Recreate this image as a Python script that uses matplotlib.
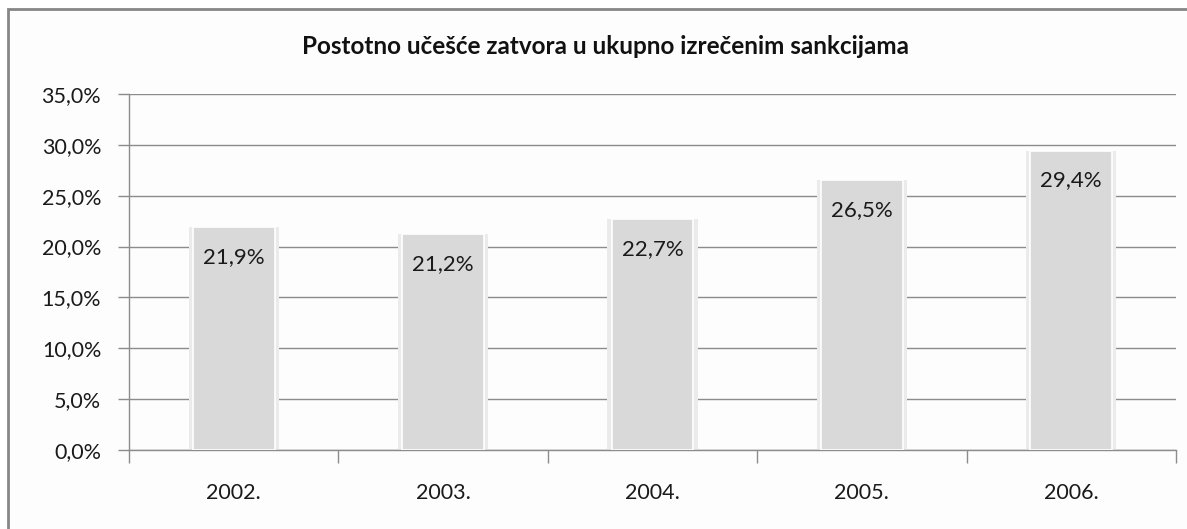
# Bar chart: share of prison sentences in all pronounced sanctions, 2002-2006

import matplotlib.pyplot as plt
from matplotlib.patches import Rectangle
from matplotlib.ticker import FuncFormatter, MultipleLocator

plt.rcParams['font.family'] = ['Lato', 'DejaVu Sans']

years = ['2002.', '2003.', '2004.', '2005.', '2006.']
shares = [21.9, 21.2, 22.7, 26.5, 29.4]
title = "Postotno učešće zatvora u ukupno izrečenim sankcijama"

fig = plt.figure(figsize=(11.87, 5.29), dpi=100)
fig.patch.set_facecolor('white')

# chart frame (document box, cut off at right and bottom)
frame = Rectangle((8 / 1187, -0.05), 1.2, 1 - 9 / 529 + 0.05,
                  transform=fig.transFigure, facecolor='#fdfdfd',
                  edgecolor='#868686', linewidth=2, zorder=-10)
fig.patches.append(frame)

ax = fig.add_axes([129 / 1187, 1 - 450 / 529, (1176 - 129) / 1187, (450 - 94) / 529])
ax.set_zorder(5)
ax.set_facecolor('#fdfdfd')

x = range(len(years))
# soft glow behind the bars
ax.bar(x, shares, width=0.43, color='#ebebeb', edgecolor='none', zorder=2)
bars = ax.bar(x, shares, width=0.39, color='#d9d9d9', edgecolor='white',
              linewidth=1.2, zorder=3)

for i, v in enumerate(shares):
    ax.text(i, v - 2.9, f"{v:.1f}%".replace('.', ','), ha='center', va='center',
            fontsize=16, color='#1a1a1a', zorder=4)

ax.set_ylim(0, 35)
ax.set_xlim(-0.5, len(years) - 0.5)
ax.yaxis.set_major_locator(MultipleLocator(5))
ax.yaxis.set_major_formatter(FuncFormatter(lambda v, p: f"{v:.1f}%".replace('.', ',')))
ax.grid(axis='y', color='#8c8c8c', linewidth=1, zorder=1)

ax.set_xticks(list(x))
ax.set_xticklabels(years)
ax.set_xticks([i - 0.5 for i in range(len(years) + 1)], minor=True)
ax.tick_params(axis='x', which='major', length=0, pad=24, labelsize=15.5, labelcolor='#1a1a1a')
ax.tick_params(axis='x', which='minor', length=9, color='#8c8c8c', width=1)
ax.tick_params(axis='y', length=8, color='#8c8c8c', width=1, pad=12,
               labelsize=15.5, labelcolor='#1a1a1a')

for side in ['top', 'right']:
    ax.spines[side].set_visible(False)
for side in ['left', 'bottom']:
    ax.spines[side].set_color('#8c8c8c')
    ax.spines[side].set_linewidth(1)

fig.text(606 / 1187, 1 - 47 / 529, title, ha='center', va='center',
         fontsize=17.5, fontweight='bold', color='#111111')

plt.savefig('out.png', dpi=100)
